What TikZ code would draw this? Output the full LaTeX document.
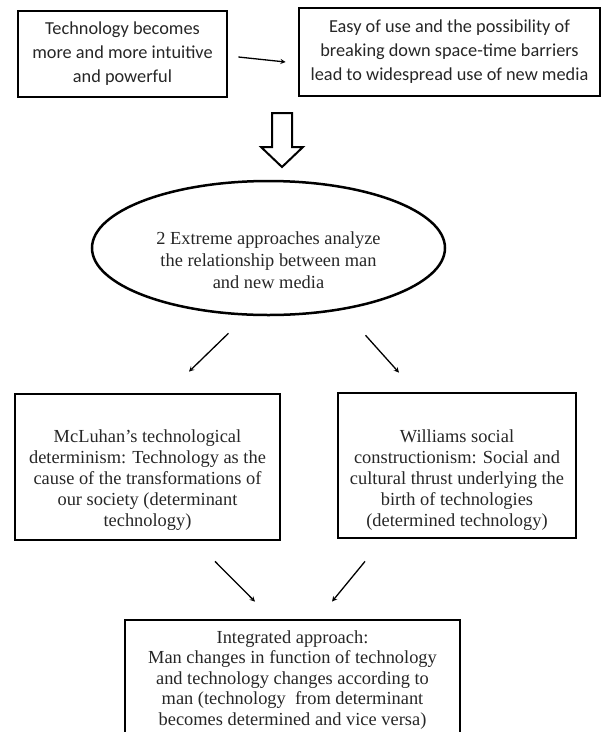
\documentclass[tikz,border=0pt]{standalone}
\usepackage{fontspec}
\setmainfont{Liberation Serif}
\newfontfamily\calibfont{Carlito}
\usetikzlibrary{shapes.geometric}

\begin{document}
\begin{tikzpicture}[x = 1pt, y = -1pt,
	box/.style = {draw, line width = 2.8pt, inner sep = 0pt},
	sanstext/.style = {align = center, text = black!85, font = \calibfont\fontsize{18.3}{24}\selectfont},
	sertext/.style = {align = center, text = black!85, font = \fontsize{18.4}{21}\selectfont},
	arr/.style = {->, >=stealth, line width = 1.3pt}]
	\useasboundingbox (0, 0) rectangle (602, 732);
	
	\node[box, sanstext, minimum width = 209pt, minimum height = 86pt] (tech) at (122.5, 54) {Technology becomes\\ more and more intuitive\\ and powerful};
	\node[box, sanstext, minimum width = 301pt, minimum height = 88pt] (ease) at (449.5, 52) {Easy of use and the possibility of\\ breaking down space-time barriers\\ lead to widespread use of new media};
	\draw[arr] ([xshift = 10pt, yshift = -3pt]tech.east) -- ([xshift = -12pt, yshift = -10pt]ease.west);
	
	\draw[line width = 2pt, line join = miter] (272, 113) -- (292, 113) -- (292, 147) -- (303, 147) -- (282, 167) -- (261, 147) -- (272, 147) -- cycle;
	
	\node[box, ellipse, line width = 2.5pt, minimum width = 353pt, minimum height = 134pt] (ell) at (268.5, 248) {};
	\node[sertext, font = \fontsize{18.4}{22}\selectfont] (elltext) at (268.5, 260) {2 Extreme approaches analyze\\ the relationship between man\\ and new media};
	
	\node[box, minimum width = 265pt, minimum height = 146pt] (mcl) at (147.5, 467) {};
	\node[sertext] (mcltext) at (147.5, 480) {McLuhan's technological\\ determinism: Technology as the\\ cause of the transformations of\\ our society (determinant\\ technology)};
	
	\node[box, minimum width = 238pt, minimum height = 145pt] (wil) at (457, 465.5) {};
	\node[sertext] (wiltext) at (457, 480) {Williams social\\ constructionism: Social and\\ cultural thrust underlying the\\ birth of technologies\\ (determined technology)};
	
	\draw[arr] ([xshift = -40pt, yshift = -17pt]ell.south) -- ([xshift = 41.5pt, yshift = 21pt]mcl.north);
	\draw[arr] ([xshift = 97pt, yshift = -19pt]ell.south) -- ([xshift = -58pt, yshift = 19pt]wil.north);
	
	\node[box, sertext, font = \fontsize{18.4}{20.5}\selectfont, minimum width = 335pt, minimum height = 120pt] (integ) at (292.5, 680) {Integrated approach:\\ Man changes in function of technology\\ and technology changes according to\\ man (technology\ \ from determinant\\ becomes determined and vice versa)};
	
	\draw[arr] ([xshift = 67.5pt, yshift = -20pt]mcl.south) -- ([xshift = -37.5pt, yshift = 17pt]integ.north);
	\draw[arr] ([xshift = -92pt, yshift = -22pt]wil.south) -- ([xshift = 39.5pt, yshift = 17pt]integ.north);
\end{tikzpicture}
\end{document}
